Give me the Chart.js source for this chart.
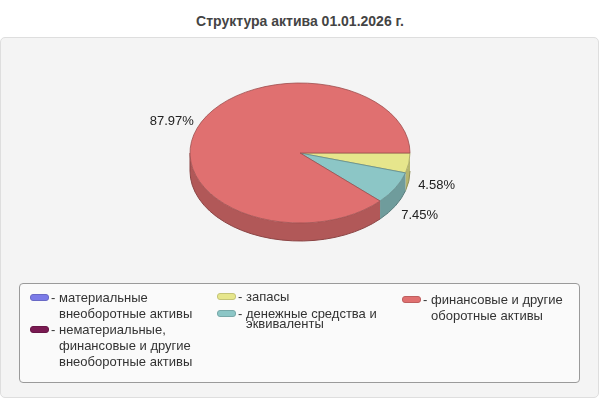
<!DOCTYPE html>
<html lang="ru">
<head>
<meta charset="utf-8">
<script src="https://cdn.jsdelivr.net/npm/chart.js@4"></script>
<style>
  html, body { margin: 0; padding: 0; background: #fff; }
  body { width: 600px; height: 400px; position: relative; overflow: hidden;
         font-family: "Liberation Sans", Arial, sans-serif; }
  #title { position: absolute; left: 0; top: 12px; width: 600px; text-align: center;
           font-size: 14px; font-weight: bold; color: #444; line-height: 18px; }
  #panel { position: absolute; left: 0; top: 37px; width: 597px; height: 359px;
           border: 1px solid #dedede; border-radius: 5px; background: #f4f4f4; }
  #chart { position: absolute; left: 0; top: 0; }
  #legend { position: absolute; left: 19px; top: 283px; width: 559px; height: 98px;
            border: 1px solid #9a9a9a; border-radius: 4px; background: #fafafa; }
  .col { position: absolute; }
  .item { display: flex; align-items: flex-start; font-size: 13px; color: #333; }
  .sw { width: 17px; height: 5px; border: 1px solid; border-radius: 3px; flex: none; }
  .dash { width: 8px; flex: none; text-align: left; margin-left: 2px; }
  .txt { width: 150px; }
</style>
</head>
<body>
<div id="title">Структура актива 01.01.2026 г.</div>
<div id="panel"></div>
<canvas id="chart" width="600" height="400"></canvas>
<div id="legend"></div>
<script>
const categories = [
  'материальные внеоборотные активы',
  'нематериальные, финансовые и другие внеоборотные активы',
  'запасы',
  'денежные средства и эквиваленты',
  'финансовые и другие оборотные активы',
];
const values = [0, 0, 4.58, 7.45, 87.97];
const valueLabels = ['0.00%', '0.00%', '4.58%', '7.45%', '87.97%'];
const colors = ['#7b7be8', '#7a1a52', '#e6e68c', '#8cc6c6', '#e07070'];

const TILT = 70 / 110;   // vertical squash of the pie
const DEPTH = 18;        // thickness of the pie side

function shade(hex, f) {
  const n = parseInt(hex.slice(1), 16);
  const r = Math.round(((n >> 16) & 255) * f);
  const g = Math.round(((n >> 8) & 255) * f);
  const b = Math.round((n & 255) * f);
  return `rgb(${r},${g},${b})`;
}

const pie3d = {
  id: 'pie3d',
  beforeDatasetsDraw(chart) {
    const ctx = chart.ctx;
    const arcs = chart.getDatasetMeta(0).data;
    const cx = arcs[0].x, cy = arcs[0].y;
    const r = arcs[0].outerRadius, ry = r * TILT;

    ctx.save();
    ctx.lineJoin = 'round';

    // front side walls
    arcs.forEach((arc, i) => {
      if (!values[i]) return;
      const s = Math.max(arc.startAngle, 0);
      const e = Math.min(arc.endAngle, Math.PI);
      if (e <= s) return;
      ctx.beginPath();
      ctx.ellipse(cx, cy, r, ry, 0, s, e, false);
      ctx.ellipse(cx, cy + DEPTH, r, ry, 0, e, s, true);
      ctx.closePath();
      ctx.fillStyle = shade(colors[i], 0.79);
      ctx.fill();
      ctx.beginPath();
      ctx.ellipse(cx, cy + DEPTH, r, ry, 0, s, e, false);
      ctx.strokeStyle = shade(colors[i], 0.62);
      ctx.lineWidth = 1;
      ctx.stroke();
    });
    ctx.beginPath();
    ctx.moveTo(cx - r, cy);
    ctx.lineTo(cx - r, cy + DEPTH);
    ctx.strokeStyle = shade(colors[4], 0.62);
    ctx.stroke();

    // top face
    arcs.forEach((arc, i) => {
      if (!values[i]) return;
      ctx.beginPath();
      ctx.moveTo(cx, cy);
      ctx.ellipse(cx, cy, r, ry, 0, arc.startAngle, arc.endAngle, false);
      ctx.closePath();
      ctx.fillStyle = colors[i];
      ctx.fill();
      ctx.strokeStyle = shade(colors[i], 0.7);
      ctx.lineWidth = 0.8;
      ctx.stroke();
    });

    // value labels
    ctx.font = '13px "Liberation Sans", Arial, sans-serif';
    ctx.fillStyle = '#222';
    ctx.textAlign = 'center';
    ctx.textBaseline = 'middle';
    arcs.forEach((arc, i) => {
      if (!values[i]) return;
      const mid = (arc.startAngle + arc.endAngle) / 2;
      const sn = Math.sin(mid);
      const x = cx + Math.cos(mid) * (r + 28);
      const y = cy + sn * (ry + 15) + (sn > 0 ? DEPTH + 2 : 0);
      ctx.fillText(valueLabels[i], x, y);
    });
    ctx.restore();
    return false;
  },
};

new Chart(document.getElementById('chart'), {
  type: 'pie',
  data: {
    labels: categories,
    datasets: [{ data: values, backgroundColor: colors, borderWidth: 0, hoverOffset: 0 }],
  },
  options: {
    responsive: false,
    animation: false,
    rotation: 90,
    layout: { padding: { left: 190, right: 190, top: 43, bottom: 137 } },
    plugins: { legend: { display: false }, tooltip: { enabled: false } },
  },
  plugins: [pie3d],
});

// legend: three columns like the original
const legendCols = [
  { idx: [0, 1], left: 10, top: 6, lh: 16, gap: 0 },
  { idx: [2, 3], left: 197, top: 8, lh: 10, gap: 6.7 },
  { idx: [4],    left: 382, top: 8, lh: 16, gap: 0 },
];
const legendEl = document.getElementById('legend');
legendEl.innerHTML = legendCols.map(c => `
  <div class="col" style="left:${c.left}px;top:${c.top}px">
    ${c.idx.map(i => `
      <div class="item" style="line-height:${c.lh}px;margin-bottom:${c.gap}px">
        <span class="sw" style="background:${colors[i]};border-color:${shade(colors[i], 0.85)};margin-top:${c.lh / 2 - 4}px"></span>
        <span class="dash">-</span>
        <span class="txt">${categories[i]}</span>
      </div>`).join('')}
  </div>`).join('');
</script>
</body>
</html>
